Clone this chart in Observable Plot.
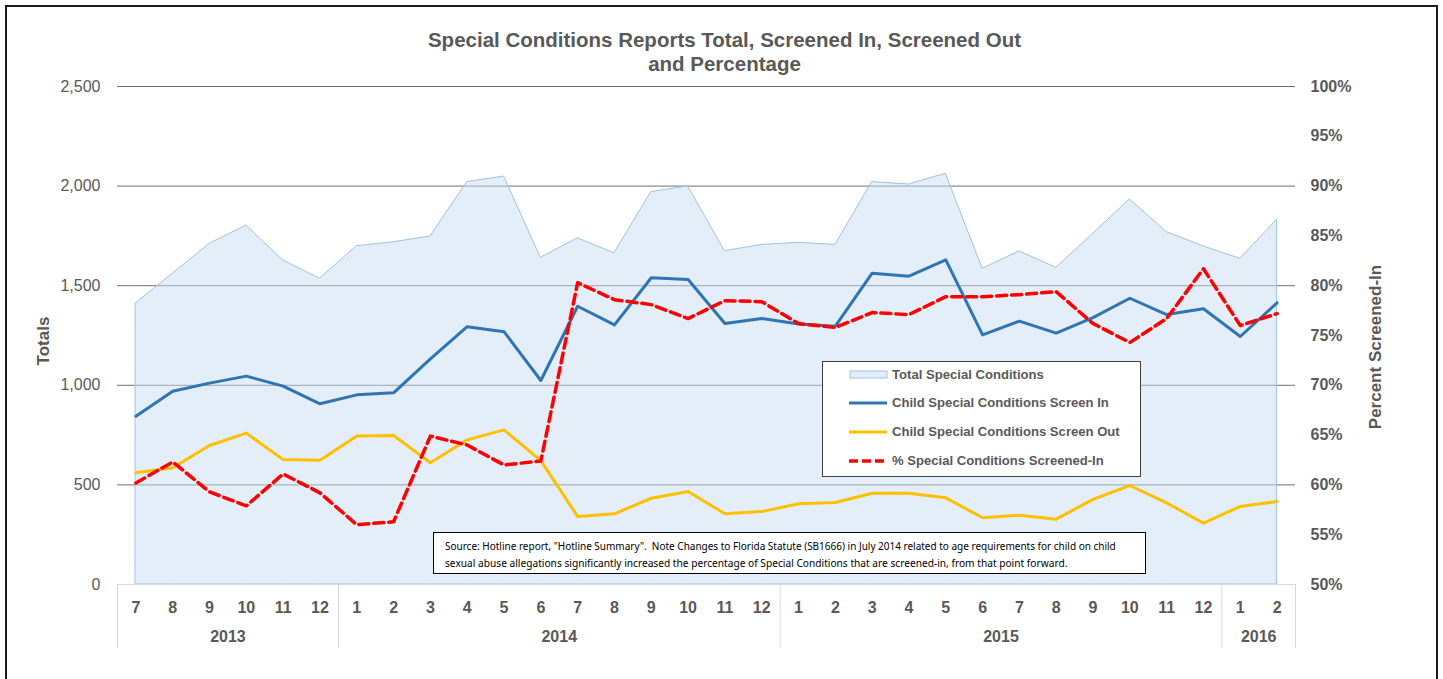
<!DOCTYPE html>
<html>
<head>
<meta charset="utf-8">
<script src="https://cdn.jsdelivr.net/npm/d3@7"></script>
<script src="https://cdn.jsdelivr.net/npm/@observablehq/plot@0.6"></script>
<style>
  html, body { margin: 0; padding: 0; background: #fff; }
  #wrap { position: relative; width: 1443px; height: 679px; overflow: hidden; font-family: "Liberation Sans", Arial, sans-serif; }
  #frame { position: absolute; left: 5px; top: 5px; width: 1433px; height: 700px; border: 2px solid #1a1a1a; box-sizing: border-box; pointer-events: none; }
  #title { position: absolute; left: 0; top: 28px; width: 1449px; text-align: center; font-weight: bold; font-size: 20.5px; line-height: 24px; color: #595959; }
  .axt { position: absolute; font-weight: bold; font-size: 17px; color: #595959; white-space: nowrap; transform-origin: center center; }
  #legend { position: absolute; left: 822px; top: 361px; width: 319px; height: 116px; background: #fff; border: 1px solid #404040; box-sizing: border-box; }
  .li { position: absolute; left: 0; height: 20px; }
  .li svg { position: absolute; left: 26px; top: 2px; }
  .li span { position: absolute; left: 69px; top: 1px; font-weight: bold; font-size: 13.1px; color: #595959; white-space: nowrap; }
  #source { position: absolute; left: 433px; top: 532px; width: 713px; height: 42px; background: #fff; border: 1.5px solid #000; box-sizing: border-box; }
  #source div { position: absolute; left: 11px; font-family: "Noto Sans", sans-serif; font-size: 11px; color: #000; white-space: pre; transform-origin: left center; }
</style>
</head>
<body>
<div id="wrap">
  <div id="chart"></div>
  <div id="title">Special Conditions Reports Total, Screened In, Screened Out<br>and Percentage</div>
  <div id="legend"></div>
  <div id="source"></div>
  <div id="frame"></div>
</div>
<script>
// ---- data ----
const months = [7,8,9,10,11,12, 1,2,3,4,5,6,7,8,9,10,11,12, 1,2,3,4,5,6,7,8,9,10,11,12, 1,2];
const yearLabels = ["2013","2014","2015","2016"];
const yearCounts = [6, 12, 12, 2];
const totalSpecial = [1411,1560,1710,1802,1627,1535, 1698,1718,1747,2020,2048,1640,1738,1663,1970,1998,1673,1705, 1715,1705,2020,2008,2062,1585,1672,1590,1760,1933,1769,1697, 1635,1831];
const screenIn = [845,970,1011,1046,996,907, 952,962,1133,1294,1269,1024,1397,1303,1540,1531,1310,1335, 1308,1297,1563,1548,1630,1253,1322,1262,1340,1437,1355,1384, 1245,1414];
const screenOut = [561,586,698,760,627,624, 746,748,611,726,776,622,341,355,433,467,355,366, 405,412,458,458,435,335,348,328,427,497,410,308, 392,417];
const pctScreenedIn = [60.2,62.3,59.3,57.9,61.1,59.2, 56.0,56.3,64.9,64.0,62.0,62.4,80.3,78.6,78.1,76.7,78.5,78.4, 76.2,75.8,77.3,77.1,78.9,78.9,79.1,79.4,76.2,74.3,76.7,81.7, 76.0,77.2];
const leftTicks = [0,500,1000,1500,2000,2500];
const rightTicks = [50,55,60,65,70,75,80,85,90,95,100];
const seriesNames = ["Total Special Conditions","Child Special Conditions Screen In","Child Special Conditions Screen Out","% Special Conditions Screened-In"];
const sourceLines = [
  "Source: Hotline report, \"Hotline Summary\".  Note Changes to Florida Statute (SB1666) in July 2014 related to age requirements for child on child",
  "sexual abuse allegations significantly increased the percentage of Special Conditions that are screened-in, from that point forward."
];

// ---- derived ----
const pctToLeft = p => (p - 50) / 50 * 2500;
const idx = d3.range(months.length);
let acc = 0;
const yearData = yearLabels.map((y, k) => {
  const start = acc; acc += yearCounts[k];
  return {year: y, start, end: acc - 1, mid: (start + acc - 1) / 2};
});
const boundaries = [-0.5, ...yearData.map(d => d.end + 0.5)];

const C = {area: "#c9ddf1", areaStroke: "#9dc3e6", in: "#2e75b6", out: "#ffc000", pct: "#ff0000", text: "#595959"};

const chart = Plot.plot({
  width: 1443,
  height: 679,
  marginLeft: 117,
  marginRight: 148,
  marginTop: 86,
  marginBottom: 95,
  style: {fontFamily: "'Liberation Sans', Arial, sans-serif", background: "transparent", overflow: "visible"},
  x: {type: "linear", domain: [-0.5, months.length - 0.5]},
  y: {domain: [0, 2500]},
  marks: [
    Plot.gridY(leftTicks.filter(d => d > 0), {stroke: "#6f6f6f", strokeOpacity: 1}),
    Plot.areaY(totalSpecial, {x: (d, i) => i, y: d => d, fill: C.area, fillOpacity: 0.5, stroke: C.areaStroke, strokeWidth: 1}),
    Plot.ruleY([0], {stroke: "#d9d9d9"}),
    Plot.ruleX(boundaries, {y1: () => 0, y2: () => -322, stroke: "#d9d9d9"}),
    Plot.lineY(screenOut, {x: (d, i) => i, y: d => d, stroke: C.out, strokeWidth: 3}),
    Plot.lineY(screenIn, {x: (d, i) => i, y: d => d, stroke: C.in, strokeWidth: 3}),
    Plot.lineY(pctScreenedIn, {x: (d, i) => i, y: d => pctToLeft(d), stroke: C.pct, strokeWidth: 3.5, strokeDasharray: "10,5"}),
    Plot.axisY(leftTicks, {anchor: "left", tickSize: 0, tickPadding: 17, tickFormat: d3.format(","), fontSize: 16, fill: C.text, label: null}),
    Plot.axisY(rightTicks.map(pctToLeft), {anchor: "right", tickSize: 0, tickPadding: 15, tickFormat: d => `${Math.round(50 + d / 50)}%`, fontSize: 16, fontWeight: "bold", fill: C.text, label: null}),
    Plot.axisX(idx, {anchor: "bottom", tickSize: 0, tickPadding: 17, tickFormat: i => months[i], fontSize: 16, fontWeight: "bold", fill: C.text, label: null}),
    Plot.text(yearData, {x: "mid", y: () => 0, dy: 52, text: "year", fontSize: 16, fontWeight: "bold", fill: C.text})
  ]
});
document.getElementById("chart").appendChild(chart);

// axis titles
const wrap = document.getElementById("wrap");
function axisTitle(txt, cx, cy) {
  const el = document.createElement("div");
  el.className = "axt";
  el.textContent = txt;
  wrap.appendChild(el);
  const w = el.offsetWidth, h = el.offsetHeight;
  el.style.left = (cx - w / 2) + "px";
  el.style.top = (cy - h / 2) + "px";
  el.style.transform = "rotate(-90deg)";
}
axisTitle("Totals", 44, 341);
axisTitle("Percent Screened-In", 1376, 347);

// legend
const legend = document.getElementById("legend");
const legendSym = [
  `<svg width="40" height="14"><rect x="1" y="3" width="37" height="7" fill="${C.area}" fill-opacity="0.5" stroke="${C.areaStroke}"/></svg>`,
  `<svg width="40" height="14"><line x1="0" x2="38" y1="7" y2="7" stroke="${C.in}" stroke-width="3"/></svg>`,
  `<svg width="40" height="14"><line x1="0" x2="38" y1="7" y2="7" stroke="${C.out}" stroke-width="3"/></svg>`,
  `<svg width="40" height="14"><line x1="0" x2="38" y1="7" y2="7" stroke="${C.pct}" stroke-width="3.5" stroke-dasharray="9,4"/></svg>`
];
const rowY = [375, 403, 432, 461];
seriesNames.forEach((name, k) => {
  const row = document.createElement("div");
  row.className = "li";
  row.style.top = (rowY[k] - 361 - 10) + "px";
  row.innerHTML = legendSym[k] + `<span>${name}</span>`;
  legend.appendChild(row);
});

// source note
const source = document.getElementById("source");
const targetW = [671, 622];
const lineTop = [5, 22];
sourceLines.forEach((t, k) => {
  const el = document.createElement("div");
  el.textContent = t;
  el.style.top = lineTop[k] + "px";
  source.appendChild(el);
  const w = el.offsetWidth;
  el.style.transform = `scaleX(${targetW[k] / w})`;
});
</script>
</body>
</html>
